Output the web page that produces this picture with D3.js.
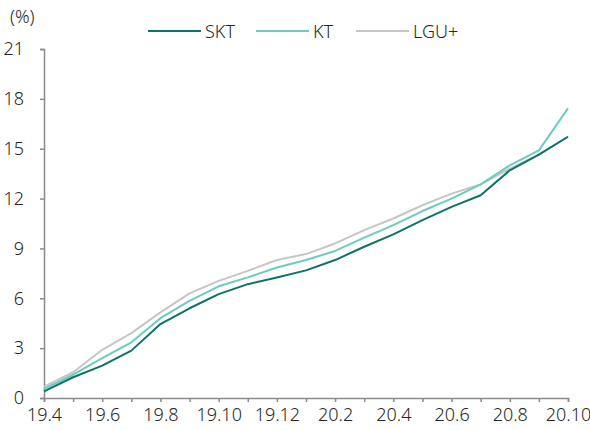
<!DOCTYPE html>
<html><head><meta charset="utf-8">
<script src="https://cdn.jsdelivr.net/npm/d3@7"></script>
<style>
body{margin:0;background:#fff;}
text{font-family:"Noto Sans","Open Sans",sans-serif;font-weight:300;fill:#262626;}
</style></head>
<body><svg id="c" width="590" height="430"></svg>
<script>
const months = ["19.4","19.5","19.6","19.7","19.8","19.9","19.10","19.11","19.12","20.1","20.2","20.3","20.4","20.5","20.6","20.7","20.8","20.9","20.10"];
const tickLabels = ["19.4","19.6","19.8","19.10","19.12","20.2","20.4","20.6","20.8","20.10"];
const yTicks = [0,3,6,9,12,15,18,21];
const skt = [0.4,1.25,1.95,2.85,4.45,5.4,6.25,6.85,7.25,7.68,8.3,9.1,9.85,10.7,11.5,12.2,13.7,14.65,15.72];
const kt  = [0.55,1.4,2.4,3.35,4.8,5.85,6.72,7.26,7.85,8.3,8.85,9.65,10.4,11.25,12.0,12.85,14.0,14.9,17.43];
const lgu = [0.68,1.55,2.9,3.9,5.15,6.3,7.05,7.65,8.3,8.66,9.3,10.1,10.8,11.6,12.3,12.85,13.8,14.65,15.72];
const seriesNames = ["SKT","KT","LGU+"];
const seriesColors = ["#0f7268","#6acdbf","#c6c6c6"];
const seriesData = [skt,kt,lgu];

const svg = d3.select("#c");
const L=44,R=568,T=49,B=398;
const x = d3.scalePoint().domain(months).range([L,R]);
const y = d3.scaleLinear().domain([0,21]).range([B,T]);
const axisColor="#8a8a8a";
const fs="18px";

// y axis
const ya = svg.append("g").attr("transform",`translate(${L},0)`)
  .call(d3.axisLeft(y).tickValues(yTicks).tickSize(4).tickPadding(16));
ya.select(".domain").attr("stroke",axisColor).attr("stroke-width",1.5);
ya.selectAll(".tick line").attr("stroke",axisColor).attr("stroke-width",1.5);
ya.selectAll("text").style("font-size",fs).attr("fill","#262626");

// x axis
const xa = svg.append("g").attr("transform",`translate(0,${B})`)
  .call(d3.axisBottom(x).tickSize(4).tickPadding(6).tickFormat(d=>tickLabels.includes(d)?d:""));
xa.select(".domain").attr("stroke",axisColor).attr("stroke-width",1.5);
xa.selectAll(".tick line").attr("stroke",axisColor).attr("stroke-width",1.5);
xa.selectAll("text").style("font-size",fs).attr("fill","#262626");

// lines (draw LGU+ first so SKT on top)
const line = d3.line().x((d,i)=>x(months[i])).y(d=>y(d));
[2,1,0].forEach(k=>{
  svg.append("path").datum(seriesData[k]).attr("d",line)
    .attr("fill","none").attr("stroke",seriesColors[k]).attr("stroke-width",2).attr("stroke-linejoin","round");
});

// unit label
svg.append("text").attr("x",10).attr("y",23).style("font-size",fs).text("(%)");

// legend
const legX=[148,256,356];
seriesNames.forEach((n,k)=>{
  svg.append("line").attr("x1",legX[k]).attr("x2",legX[k]+53).attr("y1",31).attr("y2",31)
    .attr("stroke",seriesColors[k]).attr("stroke-width",2);
  svg.append("text").attr("x",legX[k]+57).attr("y",37.5).style("font-size",fs).text(n);
});
</script></body></html>
